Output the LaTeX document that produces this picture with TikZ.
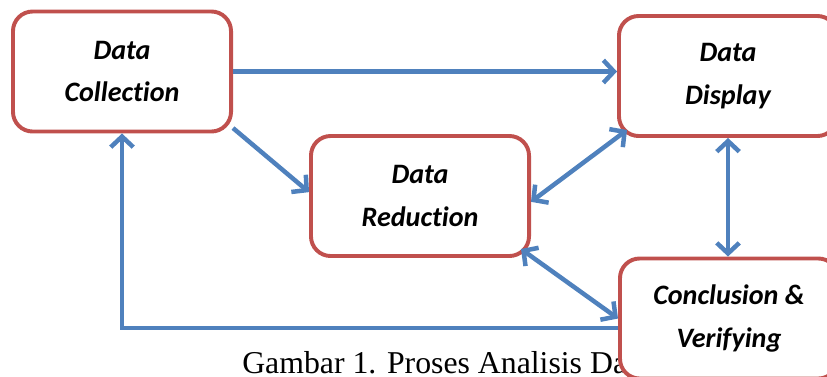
\documentclass[tikz,border=0pt]{standalone}
\usepackage{fontspec}
\setmainfont{Liberation Serif}
\newfontfamily\boxfont{Carlito}[Ligatures=NoCommon]
\usetikzlibrary{calc}
\usetikzlibrary{arrows.meta}
\definecolor{boxred}{RGB}{192,80,77}
\definecolor{arrowblue}{RGB}{79,129,189}
\tikzset{
  every picture/.style={
    x=0.025cm, y=-0.025cm,
    >={Straight Barb[width=16pt, length=7.5pt]}
  },
  stagebox/.style={
    draw=boxred, fill=white, line width=2.8pt,
    rounded corners=14pt, align=center,
    minimum width=5.45cm, minimum height=3.0cm,
    font=\boxfont\bfseries\itshape\fontsize{20}{30}\selectfont
  },
  flow/.style={
    draw=arrowblue, line width=3.2pt
  }
}
\begin{document}
\begin{tikzpicture}
      \useasboundingbox (0,0) rectangle (827,376);
      \clip (0,0) rectangle (827,376);
      \node [anchor=base west, inner sep=0pt, font=\fontsize{22.6}{26}\selectfont]
        (cap) at (242,373) {Gambar 1. Proses Analisis Data};
      \node [stagebox] (coll) at (122,71.5) {Data\\Collection};
      \node [stagebox] (disp) at (728,76) {Data\\Display};
      \node [stagebox] (red) at (420,196) {Data\\Reduction};
      \node [stagebox] (conc) at (729,318.5) {Conclusion \&\\Verifying};
      \draw [flow,->] (coll.east) -- (coll.east -| disp.west);
      \draw [flow,->] (coll.-27) -- (red.178);
      \draw [flow,<->] (red.-3) -- ($(disp.south west)+(10,-8)$);
      \draw [flow,<->] (disp.south) -- (disp.south |- conc.north);
      \draw [flow,<->] ($(red.south east)+(-10,-9)$) -- (conc.west);
      \draw [flow,->] (conc.185) -| (coll.south);
    \end{tikzpicture}
\end{document}
